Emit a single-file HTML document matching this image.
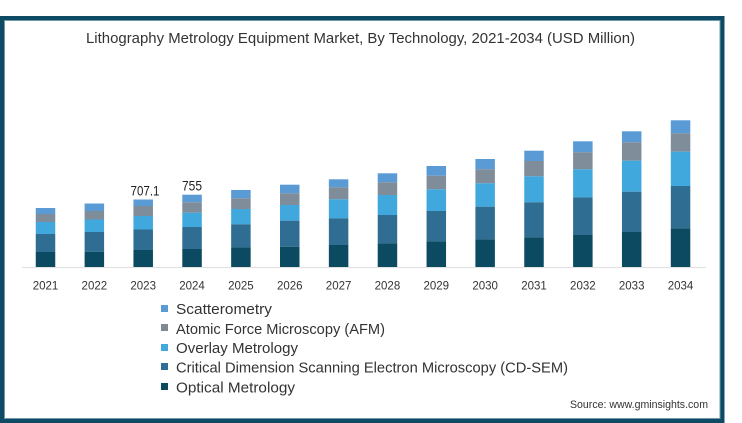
<!DOCTYPE html>
<html>
<head>
<meta charset="utf-8">
<style>
  html, body { margin: 0; padding: 0; background: #ffffff; }
  body { width: 742px; height: 423px; overflow: hidden; }
  svg { display: block; font-family: "Liberation Sans", "DejaVu Sans", sans-serif; }
</style>
</head>
<body>
<svg width="742" height="423" viewBox="0 0 742 423" xmlns="http://www.w3.org/2000/svg">
  <rect x="0" y="0" width="742" height="423" fill="#ffffff"/>
  <!-- frame -->
  <rect x="2" y="18" width="720.5" height="403" fill="#ffffff" stroke="#0e4a63" stroke-width="4"/>
  <rect x="4.5" y="20.5" width="715.5" height="398" fill="none" stroke="#6f98a8" stroke-width="1"/>

  <!-- title -->
  <text x="86" y="43" font-size="15" fill="#333" textLength="549" lengthAdjust="spacingAndGlyphs">Lithography Metrology Equipment Market, By Technology, 2021-2034 (USD Million)</text>

  <!-- axis line -->
  <line x1="22" y1="267.5" x2="706" y2="267.5" stroke="#e2e2e2" stroke-width="1.2"/>

  <g id="bars"></g>

  <!-- data labels -->
  <text x="145" y="195.5" font-size="13.5" fill="#222" text-anchor="middle" textLength="29" lengthAdjust="spacingAndGlyphs">707.1</text>
  <text x="192" y="190.5" font-size="13.5" fill="#222" text-anchor="middle" textLength="20" lengthAdjust="spacingAndGlyphs">755</text>

  <!-- year labels -->
  <g font-size="11.5" fill="#333" text-anchor="middle">
    <text x="45.5" y="289.5">2021</text>
    <text x="94.35" y="289.5">2022</text>
    <text x="143.2" y="289.5">2023</text>
    <text x="192.05" y="289.5">2024</text>
    <text x="240.9" y="289.5">2025</text>
    <text x="289.75" y="289.5">2026</text>
    <text x="338.6" y="289.5">2027</text>
    <text x="387.45" y="289.5">2028</text>
    <text x="436.3" y="289.5">2029</text>
    <text x="485.15" y="289.5">2030</text>
    <text x="534" y="289.5">2031</text>
    <text x="582.85" y="289.5">2032</text>
    <text x="631.7" y="289.5">2033</text>
    <text x="680.55" y="289.5">2034</text>
  </g>

  <!-- legend -->
  <rect x="161" y="305" width="7" height="7" fill="#5b9bd5"/>
  <rect x="161" y="324" width="7" height="7" fill="#7f8893"/>
  <rect x="161" y="344" width="7" height="7" fill="#41a8e0"/>
  <rect x="161" y="363" width="7" height="7" fill="#2f6e96"/>
  <rect x="161" y="383" width="7" height="7" fill="#0c4a5e"/>
  <g font-size="14.5" fill="#333">
    <text x="176" y="314" textLength="96" lengthAdjust="spacingAndGlyphs">Scatterometry</text>
    <text x="176" y="334" textLength="209" lengthAdjust="spacingAndGlyphs">Atomic Force Microscopy (AFM)</text>
    <text x="176" y="353" textLength="122" lengthAdjust="spacingAndGlyphs">Overlay Metrology</text>
    <text x="176" y="372.5" textLength="392" lengthAdjust="spacingAndGlyphs">Critical Dimension Scanning Electron Microscopy (CD-SEM)</text>
    <text x="176" y="392.5" textLength="119" lengthAdjust="spacingAndGlyphs">Optical Metrology</text>
  </g>

  <!-- source -->
  <text x="570" y="408" font-size="11" fill="#333" textLength="138" lengthAdjust="spacingAndGlyphs">Source: www.gminsights.com</text>

  <!-- bars drawn explicitly -->
  <g>
    <!-- 2021 -->
    <rect x="35.75" y="208" width="19.5" height="6" fill="#5b9bd5"/>
    <rect x="35.75" y="214" width="19.5" height="8" fill="#7f8c99"/>
    <rect x="35.75" y="222" width="19.5" height="12" fill="#41a8de"/>
    <rect x="35.75" y="234" width="19.5" height="18" fill="#2f6e92"/>
    <rect x="35.75" y="252" width="19.5" height="15" fill="#0c4a62"/>
    <!-- 2022 -->
    <rect x="84.6" y="203.5" width="19.5" height="7.5" fill="#5b9bd5"/>
    <rect x="84.6" y="211" width="19.5" height="8.5" fill="#7f8c99"/>
    <rect x="84.6" y="219.5" width="19.5" height="12.5" fill="#41a8de"/>
    <rect x="84.6" y="232" width="19.5" height="19.7" fill="#2f6e92"/>
    <rect x="84.6" y="251.7" width="19.5" height="15.3" fill="#0c4a62"/>
    <!-- 2023 -->
    <rect x="133.45" y="199.5" width="19.5" height="6.5" fill="#5b9bd5"/>
    <rect x="133.45" y="206" width="19.5" height="10" fill="#7f8c99"/>
    <rect x="133.45" y="216" width="19.5" height="13.5" fill="#41a8de"/>
    <rect x="133.45" y="229.5" width="19.5" height="20.5" fill="#2f6e92"/>
    <rect x="133.45" y="250" width="19.5" height="17" fill="#0c4a62"/>
    <!-- 2024 -->
    <rect x="182.3" y="194.7" width="19.5" height="7.6" fill="#5b9bd5"/>
    <rect x="182.3" y="202.3" width="19.5" height="10.4" fill="#7f8c99"/>
    <rect x="182.3" y="212.7" width="19.5" height="14.3" fill="#41a8de"/>
    <rect x="182.3" y="227" width="19.5" height="22" fill="#2f6e92"/>
    <rect x="182.3" y="249" width="19.5" height="18" fill="#0c4a62"/>
    <!-- 2025 -->
    <rect x="231.15" y="190" width="19.5" height="8.3" fill="#5b9bd5"/>
    <rect x="231.15" y="198.3" width="19.5" height="10.7" fill="#7f8c99"/>
    <rect x="231.15" y="209" width="19.5" height="15.3" fill="#41a8de"/>
    <rect x="231.15" y="224.3" width="19.5" height="23" fill="#2f6e92"/>
    <rect x="231.15" y="247.3" width="19.5" height="19.7" fill="#0c4a62"/>
    <!-- 2026 -->
    <rect x="280" y="184.7" width="19.5" height="8.6" fill="#5b9bd5"/>
    <rect x="280" y="193.3" width="19.5" height="11.7" fill="#7f8c99"/>
    <rect x="280" y="205" width="19.5" height="15.7" fill="#41a8de"/>
    <rect x="280" y="220.7" width="19.5" height="26" fill="#2f6e92"/>
    <rect x="280" y="246.7" width="19.5" height="20.3" fill="#0c4a62"/>
    <!-- 2027 -->
    <rect x="328.85" y="179.3" width="19.5" height="8" fill="#5b9bd5"/>
    <rect x="328.85" y="187.3" width="19.5" height="12" fill="#7f8c99"/>
    <rect x="328.85" y="199.3" width="19.5" height="19" fill="#41a8de"/>
    <rect x="328.85" y="218.3" width="19.5" height="26.7" fill="#2f6e92"/>
    <rect x="328.85" y="245" width="19.5" height="22" fill="#0c4a62"/>
    <!-- 2028 -->
    <rect x="377.7" y="173.3" width="19.5" height="9" fill="#5b9bd5"/>
    <rect x="377.7" y="182.3" width="19.5" height="12.7" fill="#7f8c99"/>
    <rect x="377.7" y="195" width="19.5" height="20" fill="#41a8de"/>
    <rect x="377.7" y="215" width="19.5" height="28.3" fill="#2f6e92"/>
    <rect x="377.7" y="243.3" width="19.5" height="23.7" fill="#0c4a62"/>
    <!-- 2029 -->
    <rect x="426.55" y="166" width="19.5" height="9.7" fill="#5b9bd5"/>
    <rect x="426.55" y="175.7" width="19.5" height="13.6" fill="#7f8c99"/>
    <rect x="426.55" y="189.3" width="19.5" height="21.7" fill="#41a8de"/>
    <rect x="426.55" y="211" width="19.5" height="30.3" fill="#2f6e92"/>
    <rect x="426.55" y="241.3" width="19.5" height="25.7" fill="#0c4a62"/>
    <!-- 2030 -->
    <rect x="475.4" y="159" width="19.5" height="10.3" fill="#5b9bd5"/>
    <rect x="475.4" y="169.3" width="19.5" height="14" fill="#7f8c99"/>
    <rect x="475.4" y="183.3" width="19.5" height="23.4" fill="#41a8de"/>
    <rect x="475.4" y="206.7" width="19.5" height="32.6" fill="#2f6e92"/>
    <rect x="475.4" y="239.3" width="19.5" height="27.7" fill="#0c4a62"/>
    <!-- 2031 -->
    <rect x="524.25" y="150.7" width="19.5" height="10.3" fill="#5b9bd5"/>
    <rect x="524.25" y="161" width="19.5" height="15.3" fill="#7f8c99"/>
    <rect x="524.25" y="176.3" width="19.5" height="26" fill="#41a8de"/>
    <rect x="524.25" y="202.3" width="19.5" height="35" fill="#2f6e92"/>
    <rect x="524.25" y="237.3" width="19.5" height="29.7" fill="#0c4a62"/>
    <!-- 2032 -->
    <rect x="573.1" y="141.3" width="19.5" height="11" fill="#5b9bd5"/>
    <rect x="573.1" y="152.3" width="19.5" height="17" fill="#7f8c99"/>
    <rect x="573.1" y="169.3" width="19.5" height="28" fill="#41a8de"/>
    <rect x="573.1" y="197.3" width="19.5" height="37.7" fill="#2f6e92"/>
    <rect x="573.1" y="235" width="19.5" height="32" fill="#0c4a62"/>
    <!-- 2033 -->
    <rect x="621.95" y="131.3" width="19.5" height="11" fill="#5b9bd5"/>
    <rect x="621.95" y="142.3" width="19.5" height="18.4" fill="#7f8c99"/>
    <rect x="621.95" y="160.7" width="19.5" height="31" fill="#41a8de"/>
    <rect x="621.95" y="191.7" width="19.5" height="40.3" fill="#2f6e92"/>
    <rect x="621.95" y="232" width="19.5" height="35" fill="#0c4a62"/>
    <!-- 2034 -->
    <rect x="670.8" y="120.3" width="19.5" height="13" fill="#5b9bd5"/>
    <rect x="670.8" y="133.3" width="19.5" height="18.4" fill="#7f8c99"/>
    <rect x="670.8" y="151.7" width="19.5" height="34.3" fill="#41a8de"/>
    <rect x="670.8" y="186" width="19.5" height="42.3" fill="#2f6e92"/>
    <rect x="670.8" y="228.3" width="19.5" height="38.7" fill="#0c4a62"/>
  </g>
</svg>
</body>
</html>
